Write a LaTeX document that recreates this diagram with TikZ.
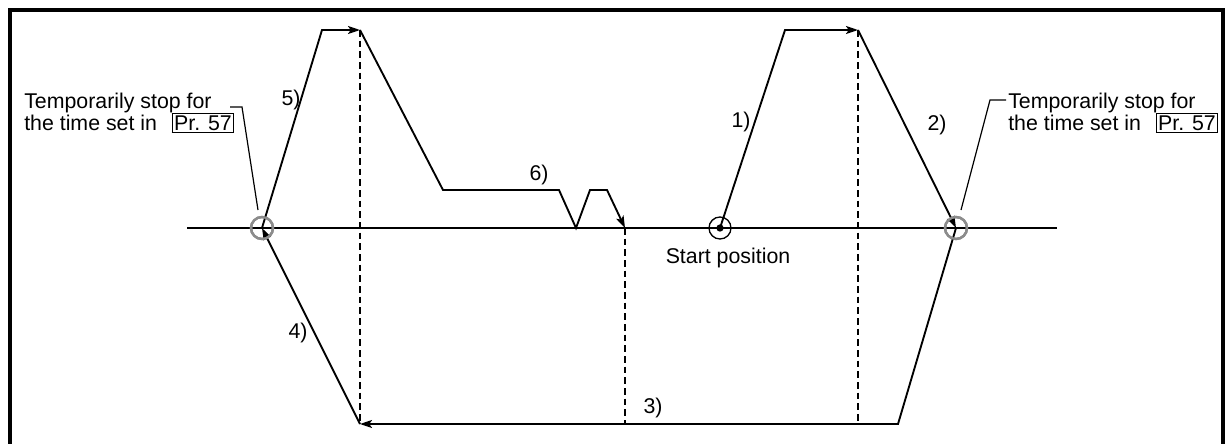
\documentclass[tikz,border=0pt]{standalone}
\usepackage{fontspec}
\setmainfont{Liberation Sans}
\usetikzlibrary{arrows.meta}
\setlength{\fboxsep}{1pt}
\setlength{\fboxrule}{0.8pt}
\begin{document}
\begin{tikzpicture}[x=0.75pt,y=-0.75pt,
  lbl/.style={font=\fontsize{16}{18}\selectfont, inner sep=0pt},
  txt/.style={lbl, anchor=base west},
  mv/.style={line width=1.4pt, line join=miter},
  tip/.style={-{Stealth[length=9pt,width=6pt,inset=2pt]}},
  guide/.style={line width=0.9pt, dash pattern=on 5pt off 3pt},
  axisline/.style={line width=0.9pt},
  leader/.style={line width=0.9pt},
  stopc/.style={circle, draw=black!45, line width=1.8pt, inner sep=0pt, minimum size=16.5pt},
  startc/.style={circle, draw=black, line width=1pt, inner sep=0pt, minimum size=16.5pt},
  dotc/.style={circle, fill=black, inner sep=0pt, minimum size=5.5pt}
]
\useasboundingbox (0,0) rectangle (1227,443);
\clip (0,0) rectangle (1227,443);
\fill[white] (0,0) rectangle (1227,443);
% frame
\draw[line width=3pt] (9.5,470) -- (9.5,9.5) -- (1223,9.5) -- (1223,470);

% axis
\coordinate (axL) at (187,228);
\coordinate (axR) at (1057,228);
\draw[axisline] (axL) -- (axR);

% key points
\node[stopc] (L) at (262,228) {};
\node[stopc] (R) at (956,228) {};
\node[startc] (S) at (720,228) {};
\node[dotc] (Sd) at (720,228) {};

\coordinate (p1a) at (785,30);
\coordinate (p1b) at (858,30);
\coordinate (p3a) at (898,424);
\coordinate (p3b) at (360,424);
\coordinate (p5a) at (322,30);
\coordinate (p5b) at (360,30);
\coordinate (p6a) at (443,190);
\coordinate (p6b) at (559,190);
\coordinate (p6c) at (576,228);
\coordinate (p6d) at (590,190);
\coordinate (p6e) at (607,190);
\coordinate (p6f) at (625,228);

% dashed guides
\coordinate (g1b) at (360,424);
\coordinate (g2b) at (858,424);
\coordinate (g3b) at (625,424);
\draw[guide] (p5b) -- (g1b);
\draw[guide] (p1b) -- (g2b);
\draw[guide] (p6f) -- (g3b);

% movements
\draw[mv,tip] (S.center) -- (p1a) -- (p1b);
\draw[mv,tip] (p1b) -- (R.center);
\draw[mv,tip] (R.center) -- (p3a) -- (p3b);
\draw[mv,tip] (p3b) -- (L.center);
\draw[mv,tip] (L.center) -- (p5a) -- (p5b);
\draw[mv,tip] (p5b) -- (p6a) -- (p6b) -- (p6c) -- (p6d) -- (p6e) -- (p6f);

% redraw circles on top
\node[stopc] at (L.center) {};
\node[stopc] at (R.center) {};

% labels
\node[lbl] (n1) at (741,122) {1)};
\node[lbl] (n2) at (937,125) {2)};
\node[lbl] (n3) at (653,408) {3)};
\node[lbl] (n4) at (298,333) {4)};
\node[lbl] (n5) at (291,100) {5)};
\node[lbl] (n6) at (539,175) {6)};
\node[lbl] (st) at (728,258) {Start position};

% left note
\node[txt] (lt1) at (24,108) {Temporarily stop for};
\node[txt] (lt2) at (24,130) {the time set in\hspace{11pt}\fbox{Pr. 57}};
\coordinate (ll1) at (230,107);
\coordinate (ll2) at (242,107);
\coordinate (ll3) at (258,210);
\draw[leader] (ll1) -- (ll2) -- (ll3);

% right note
\node[txt] (rt1) at (1008,108) {Temporarily stop for};
\node[txt] (rt2) at (1008,130) {the time set in\hspace{11pt}\fbox{Pr. 57}};
\coordinate (rl1) at (1006,100);
\coordinate (rl2) at (990,100);
\coordinate (rl3) at (961,210);
\draw[leader] (rl1) -- (rl2) -- (rl3);
\end{tikzpicture}
\end{document}
